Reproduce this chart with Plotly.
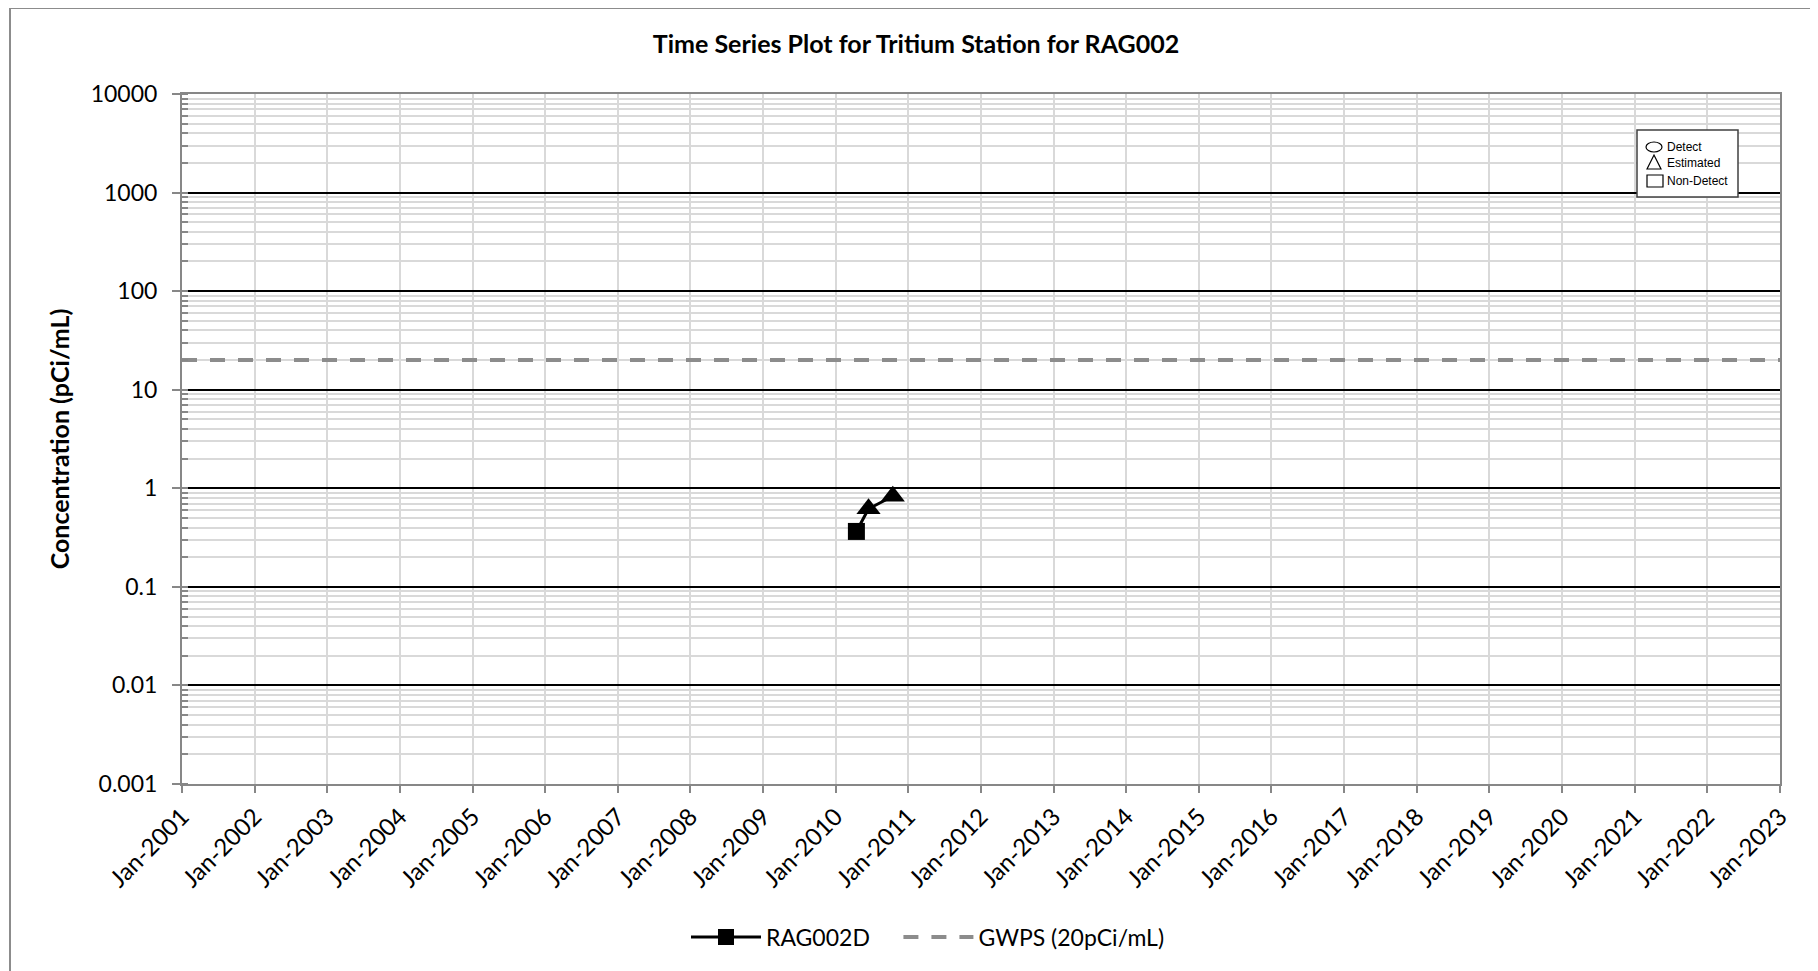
import plotly.graph_objects as go

# ---- data ----
sample_dates = ["2010-04-15", "2010-06-15", "2010-10-15"]
rag002d_values = [0.365, 0.62, 0.83]
qualifier_symbols = ["square", "triangle-up", "triangle-up"]

gwps_dates = ["2001-01-01", "2023-01-01"]
gwps_values = [20, 20]

y_tick_vals = [0.001, 0.01, 0.1, 1, 10, 100, 1000, 10000]
y_tick_text = ["0.001", "0.01", "0.1", "1", "10", "100", "1000", "10000"]

title_text = "Time Series Plot for Tritium Station for RAG002"
y_title = "Concentration (pCi/mL)"
series_name = "RAG002D"
gwps_name = "GWPS (20pCi/mL)"

# page has an 8px body margin; work in reference-window coordinates
OFF = 8
W, H = 1818 - OFF, 971 - OFF
L, R, T, B = 182, 1780, 94, 784
FONT = "Lato"


def px(x):
    return (x - L) / (R - L)


def py(y):
    return (B - y) / (B - T)


def cx(x):
    return (x - OFF) / W


def cy(y):
    return 1 - (y - OFF) / H


fig = go.Figure()

fig.add_trace(go.Scatter(
    x=sample_dates, y=rag002d_values, mode="lines+markers",
    name=series_name + "\u00a0" * 4,
    line=dict(color="black", width=3),
    marker=dict(symbol=qualifier_symbols, size=[17, 21, 21], color="black",
                opacity=1, line=dict(color="black", width=0)),
))
fig.add_trace(go.Scatter(
    x=gwps_dates, y=gwps_values, mode="lines", name=gwps_name,
    line=dict(color="#8c8c8c", width=4, dash="15px,13px"),
))

axis_gray = "#878787"

fig.update_layout(
    width=W, height=H,
    margin=dict(l=L - OFF, r=1818 - R, t=T - OFF, b=971 - B),
    paper_bgcolor="white", plot_bgcolor="white",
    font=dict(family=FONT, size=23, color="black"),
    title=dict(text="<b>" + title_text + "</b>", x=cx(916), xanchor="center",
               xref="container", y=cy(44), yanchor="middle", yref="container",
               font=dict(family=FONT, size=25, color="black")),
    showlegend=True,
    legend=dict(orientation="h", x=cx(928), xref="container", xanchor="center",
                y=cy(937), yref="container", yanchor="middle",
                font=dict(family=FONT, size=23, color="black"),
                itemwidth=70, traceorder="normal"),
    xaxis=dict(
        type="date", range=["2001-01-01", "2023-01-01"],
        dtick="M12", tick0="2001-01-01", tickformat="%b-%Y", tickangle=-45,
        showgrid=True, gridcolor="#d9d9d9", gridwidth=2,
        showline=True, linecolor=axis_gray, linewidth=2, mirror=True,
        ticks="outside", ticklen=7, tickwidth=2, tickcolor=axis_gray,
        tickfont=dict(family=FONT, size=24, color="black"),
        zeroline=False,
    ),
    yaxis=dict(
        type="log", range=[-3, 4],
        tickvals=y_tick_vals, ticktext=y_tick_text,
        showgrid=True, gridcolor="black", gridwidth=2,
        showline=True, linecolor=axis_gray, linewidth=2, mirror=True,
        ticks="outside", ticklen=8, tickwidth=2, tickcolor=axis_gray,
        ticklabelstandoff=10,
        tickfont=dict(family=FONT, size=23, color="black"),
        minor=dict(dtick="D1", showgrid=True, gridcolor="#d9d9d9", gridwidth=2,
                   ticks="inside", ticklen=6, tickwidth=2, tickcolor=axis_gray),
        title=dict(text="<b>" + y_title + "</b>", standoff=14,
                   font=dict(family=FONT, size=25, color="black")),
        zeroline=False,
    ),
)

# outer chart border (left/top visible, right/bottom at edge)
fig.add_shape(type="rect", xref="paper", yref="paper",
              x0=px(10), x1=px(1817), y0=py(990), y1=py(8),
              line=dict(color="#8c8c8c", width=2), fillcolor="rgba(0,0,0,0)",
              layer="below")

# qualifier key box
fig.add_shape(type="rect", xref="paper", yref="paper",
              x0=px(1637), x1=px(1738), y0=py(197), y1=py(130),
              line=dict(color="#404040", width=1.5), fillcolor="white")
fig.add_shape(type="circle", xref="paper", yref="paper",
              x0=px(1646), x1=px(1662), y0=py(152), y1=py(142),
              line=dict(color="black", width=1.2))
fig.add_shape(type="path", xref="paper", yref="paper",
              path="M {a},{b} L {c},{d} L {e},{f} Z".format(
                  a=px(1647), b=py(169), c=px(1654), d=py(155), e=px(1661), f=py(169)),
              line=dict(color="black", width=1.2))
fig.add_shape(type="rect", xref="paper", yref="paper",
              x0=px(1647), x1=px(1663), y0=py(187), y1=py(175),
              line=dict(color="black", width=1.2))
for label, yy in [("Detect", 147), ("Estimated", 163), ("Non-Detect", 181)]:
    fig.add_annotation(xref="paper", yref="paper", x=px(1665), y=py(yy),
                       xanchor="left", yanchor="middle", text=label, showarrow=False,
                       font=dict(family="Liberation Sans", size=12, color="black"))

fig.write_html("out.html")
